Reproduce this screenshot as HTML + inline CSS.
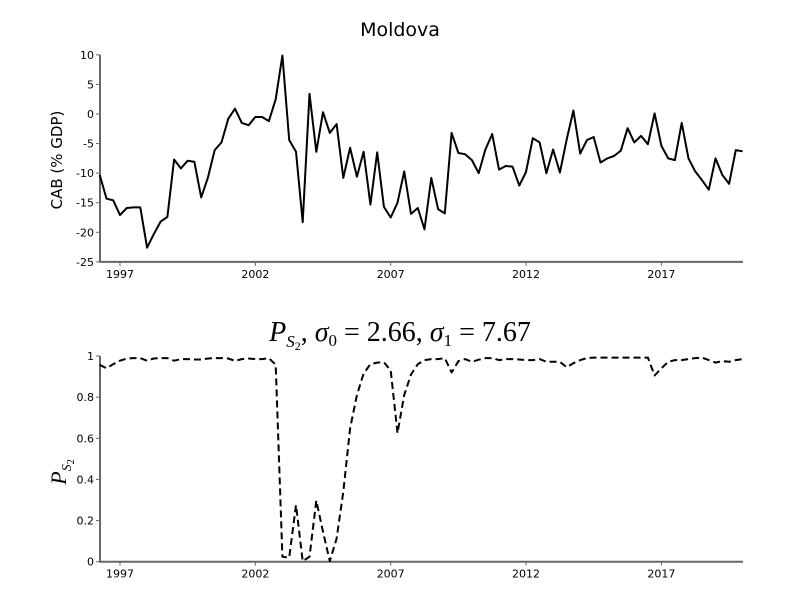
<!DOCTYPE html>
<html><head><meta charset="utf-8"><style>
body{margin:0;background:#fff;}
svg text{font-family:"DejaVu Sans","Liberation Sans",sans-serif;}
.tk{font-size:11px;fill:#000;}
</style></head><body>
<svg id="chart" width="800" height="600">
<text x="400" y="36" text-anchor="middle" font-size="19">Moldova</text>
<text x="400" y="341" text-anchor="middle" font-size="28" style="font-family:'Liberation Serif',serif"><tspan font-style="italic">P</tspan><tspan font-style="italic" font-size="17" dy="6">S</tspan><tspan font-size="12" dy="3">2</tspan><tspan dy="-9">, </tspan><tspan font-style="italic">σ</tspan><tspan font-size="17" dy="5">0</tspan><tspan dy="-5"> = 2.66, </tspan><tspan font-style="italic">σ</tspan><tspan font-size="17" dy="5">1</tspan><tspan dy="-5"> = 7.67</tspan></text>
<text transform="translate(62,160) rotate(-90)" text-anchor="middle" font-size="15">CAB (% GDP)</text>
<text transform="translate(66,472) rotate(-90)" text-anchor="middle" font-size="22" style="font-family:'Liberation Serif',serif"><tspan font-style="italic">P</tspan><tspan font-style="italic" font-size="14" dy="5">S</tspan><tspan font-size="10" dy="3">2</tspan></text>
<g id="g1"></g><g id="g2"></g>
</svg>
<script>
const years = ['1997','2002','2007','2012','2017'];
const tickYears = [1997,2002,2007,2012,2017];
const startYear = 1996.25;
const cab = [-10.3,-14.3,-14.6,-17.1,-15.9,-15.8,-15.8,-22.6,-20.3,-18.2,-17.4,-7.7,-9.2,-7.9,-8.1,-14.1,-10.7,-6.1,-4.8,-0.8,0.9,-1.5,-1.9,-0.5,-0.5,-1.2,2.5,9.9,-4.4,-6.4,-18.3,3.4,-6.4,0.3,-3.2,-1.7,-10.8,-5.7,-10.6,-6.4,-15.3,-6.5,-15.7,-17.5,-15,-9.7,-16.9,-15.9,-19.5,-10.8,-16.1,-16.8,-3.2,-6.6,-6.8,-7.8,-10,-6,-3.4,-9.4,-8.8,-8.9,-12.1,-9.8,-4.1,-4.8,-10,-6,-9.9,-4.3,0.6,-6.7,-4.4,-3.9,-8.2,-7.5,-7.1,-6.2,-2.4,-4.8,-3.7,-5.1,0.1,-5.4,-7.5,-7.8,-1.5,-7.5,-9.7,-11.2,-12.8,-7.5,-10.3,-11.8,-6.1,-6.3];
const prob = [0.957,0.94,0.96,0.977,0.988,0.99,0.99,0.977,0.988,0.99,0.99,0.977,0.985,0.985,0.983,0.983,0.988,0.99,0.99,0.988,0.976,0.985,0.988,0.985,0.985,0.99,0.957,0.024,0.02,0.275,0.003,0.024,0.297,0.146,0.003,0.113,0.34,0.648,0.81,0.915,0.96,0.968,0.97,0.93,0.625,0.81,0.91,0.96,0.98,0.985,0.985,0.99,0.92,0.975,0.985,0.972,0.982,0.99,0.99,0.98,0.985,0.985,0.983,0.98,0.98,0.985,0.972,0.972,0.972,0.945,0.965,0.98,0.99,0.992,0.992,0.992,0.992,0.992,0.992,0.992,0.992,0.992,0.905,0.94,0.972,0.98,0.98,0.985,0.99,0.992,0.98,0.968,0.975,0.972,0.98,0.985];
const topTicks = [10,5,0,-5,-10,-15,-20,-25];
const botTicks = [1,0.8,0.6,0.4,0.2,0];
const botTickLabels = ['1','0.8','0.6','0.4','0.2','0'];
const NS='http://www.w3.org/2000/svg';
const X0=100,X1=743;
function xs(t){return 120+(t-1997)*27.07;}
function ys1(v){return 114-5.914*v;}
function ys2(v){return 561.7-205.7*v;}
function mk(tag,attrs,parent){const e=document.createElementNS(NS,tag);for(const k in attrs)e.setAttribute(k,attrs[k]);parent.appendChild(e);return e;}
function panel(gid,ys,ticks,labels,data,dash,name){
  const g=document.getElementById(gid);
  const yb=ys(ticks[ticks.length-1]), yt=ys(ticks[0]);
  const ax=mk('path',{d:`M${X0},${yt}V${yb}H${X1}`,stroke:'#666',fill:'none','stroke-width':2},g);
  
  
  ticks.forEach((v,i)=>{
    const y=ys(v);
    const l=mk('line',{x1:X0-4,x2:X0,y1:y,y2:y,stroke:'#666'},g);
    
    
    const t=mk('text',{x:X0-6,y:y+4,'text-anchor':'end',class:'tk'},g);
    t.textContent=labels[i];
    
    
  });
  tickYears.forEach((yr,i)=>{
    const x=xs(yr);
    const l=mk('line',{x1:x,x2:x,y1:yb,y2:yb+4,stroke:'#666'},g);
    
    
    const t=mk('text',{x:x,y:yb+16,'text-anchor':'middle',class:'tk'},g);
    t.textContent=years[i];
    
    
  });
  const d=data.map((v,i)=>(i?'L':'M')+xs(startYear+i*0.25).toFixed(1)+','+ys(v).toFixed(1)).join('');
  const p=mk('path',{d:d,fill:'none',stroke:'#000','stroke-width':2,'stroke-linejoin':'round'},g);
  if(dash)p.setAttribute('stroke-dasharray','7,4');
  
  
}
panel('g1',ys1,topTicks,topTicks.map(String),cab,false,'cab');
panel('g2',ys2,botTicks,botTickLabels,prob,true,'prob');
</script>
</body></html>
